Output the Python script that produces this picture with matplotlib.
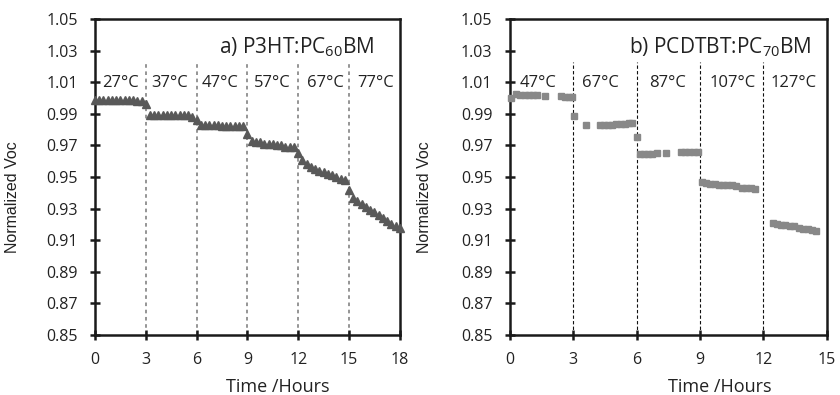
import matplotlib
matplotlib.use('Agg')
import matplotlib.pyplot as plt
import numpy as np

plt.rcParams['font.family'] = ['Open Sans', 'DejaVu Sans']
plt.rcParams['mathtext.fontset'] = 'custom'
plt.rcParams['mathtext.rm'] = 'Open Sans'
plt.rcParams['mathtext.it'] = 'Open Sans:italic'

# a) P3HT:PC60BM, sampled every 15 min
hours_a = np.arange(0, 18.25, 0.25)
voc_a = [0.999, 0.999, 0.999, 0.999, 0.999, 0.999, 0.999, 0.999, 0.999, 0.999, 0.998, 0.998,
         0.996,
         0.989, 0.989, 0.989, 0.989, 0.989, 0.989, 0.989, 0.989, 0.989, 0.989, 0.988,
         0.986,
         0.983, 0.983, 0.983, 0.983, 0.983, 0.982, 0.982, 0.982, 0.982, 0.982, 0.982,
         0.977,
         0.973, 0.972, 0.972, 0.971, 0.971, 0.971, 0.970, 0.970, 0.969, 0.969, 0.969,
         0.965,
         0.961, 0.958, 0.956, 0.955, 0.954, 0.953, 0.952, 0.951, 0.950, 0.949, 0.948,
         0.942,
         0.937, 0.935, 0.933, 0.931, 0.929, 0.928, 0.926, 0.924, 0.922, 0.920, 0.919, 0.918]
temps_a = ['27°C', '37°C', '47°C', '57°C', '67°C', '77°C']
temp_pos_a = [1.5, 4.4, 7.4, 10.5, 13.6, 16.6]

# b) PCDTBT:PC70BM (gaps in the logging)
hours_b = [0.03, 0.3, 0.5, 0.7, 0.9, 1.1, 1.3, 1.66, 2.4, 2.6, 2.8, 2.95,
           3.05, 3.6, 4.25, 4.45, 4.65, 4.85, 5.05, 5.25, 5.45, 5.65, 5.8,
           6.0, 6.15, 6.35, 6.55, 6.75, 6.95, 7.4, 8.1, 8.3, 8.5, 8.7, 8.9,
           9.1, 9.3, 9.5, 9.7, 9.9, 10.1, 10.3, 10.5, 10.7, 11.0, 11.2, 11.4, 11.6,
           12.45, 12.65, 12.85, 13.05, 13.25, 13.45, 13.7, 13.9, 14.1, 14.3, 14.5]
voc_b = [1.0000, 1.0022, 1.0021, 1.0020, 1.0019, 1.0018, 1.0017, 1.0013, 1.0010, 1.0009, 1.0008, 1.0007,
         0.9885, 0.9830, 0.9826, 0.9828, 0.9830, 0.9832, 0.9834, 0.9836, 0.9838, 0.9840, 0.9842,
         0.9753, 0.9648, 0.9646, 0.9646, 0.9648, 0.9650, 0.9652, 0.9658, 0.9658, 0.9658, 0.9658, 0.9658,
         0.9466, 0.9462, 0.9458, 0.9455, 0.9452, 0.9450, 0.9448, 0.9446, 0.9444, 0.9432, 0.9430, 0.9428, 0.9426,
         0.9208, 0.9204, 0.9199, 0.9195, 0.9191, 0.9188, 0.9177, 0.9173, 0.9169, 0.9165, 0.9160]
temps_b = ['47°C', '67°C', '87°C', '107°C', '127°C']
temp_pos_b = [1.35, 4.3, 7.45, 10.55, 13.45]

yticks = np.arange(0.85, 1.0501, 0.02)

fig = plt.figure(figsize=(8.4, 3.95), dpi=100)
ax1 = fig.add_axes([0.113, 0.152, 0.363, 0.8])
ax2 = fig.add_axes([0.607, 0.152, 0.377, 0.8])


def style_axes(ax, xmax, step, label_x):
    ax.set_xlim(0, xmax)
    ax.set_ylim(0.85, 1.05)
    ax.set_xticks(np.arange(0, xmax + 1, step))
    ax.set_yticks(yticks)
    ax.set_yticklabels(['%.2f' % v for v in yticks])
    for s in ax.spines.values():
        s.set_linewidth(1.8)
        s.set_color('#1a1a1a')
    ax.tick_params(direction='inout', length=7, width=1.8, color='#1a1a1a',
                   labelsize=11.5, pad=9, labelcolor='#222222')
    ax.set_ylabel('Normalized Voc', family='Liberation Sans', fontsize=11.5, color='#222222')
    ax.yaxis.set_label_coords(-0.246, 0.437)
    ax.set_xlabel('Time /Hours', fontsize=13, color='#222222')
    ax.xaxis.set_label_coords(label_x, -0.135)


# panel a
style_axes(ax1, 18, 3, 0.6)
ax1.vlines([3, 6, 9, 12, 15], 0.85, 1.023, colors='#8c8c8c', linewidth=1.3,
           linestyles=(0, (2, 2)), zorder=1)
ax1.plot(hours_a, voc_a, linestyle='none', marker='^', markersize=5.5,
         color='#595959', clip_on=False, zorder=3)
for t, lab in zip(temp_pos_a, temps_a):
    ax1.text(t, 1.007, lab, ha='center', va='baseline', fontsize=12, color='#222222')
ax1.text(16.5, 1.0285, 'a) P3HT:PC$_{60}$BM', ha='right', va='baseline',
         fontsize=15, color='#222222')

# panel b
style_axes(ax2, 15, 3, 0.662)
ax2.vlines([3, 6, 9, 12], 0.85, 1.023, colors='#111111', linewidth=0.8,
           linestyles=(0, (3, 2)), zorder=1)
ax2.plot(hours_b, voc_b, linestyle='none', marker='s', markersize=4.4,
         color='#888888', clip_on=False, zorder=3)
for t, lab in zip(temp_pos_b, temps_b):
    ax2.text(t, 1.007, lab, ha='center', va='baseline', fontsize=12, color='#222222')
ax2.text(14.3, 1.0285, 'b) PCDTBT:PC$_{70}$BM', ha='right', va='baseline',
         fontsize=15, color='#222222')

fig.savefig('out.png', dpi=100)
